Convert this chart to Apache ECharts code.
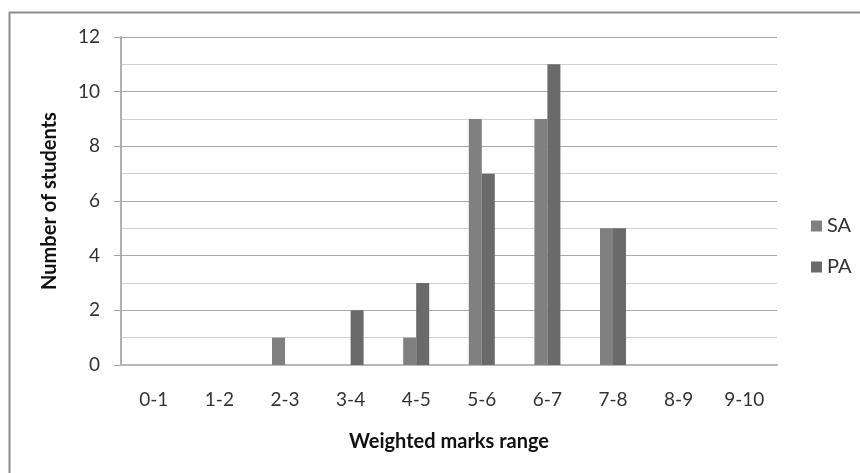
<!DOCTYPE html>
<html>
<head>
<meta charset="utf-8">
<script src="https://cdn.jsdelivr.net/npm/echarts@6/dist/echarts.min.js"></script>
<style>html,body{margin:0;padding:0;background:#fff}#c{width:860px;height:473px}</style>
</head>
<body>
<div id="c"></div>
<script>
var categories = ['0-1','1-2','2-3','3-4','4-5','5-6','6-7','7-8','8-9','9-10'];
var saValues = [0,0,1,0,1,9,9,5,0,0];
var paValues = [0,0,0,2,3,7,11,5,0,0];
var seriesNames = ['SA','PA'];
var FONT = 'Lato';
var chart = echarts.init(document.getElementById('c'), null, {renderer:'canvas'});
chart.setOption({
  animation: false,
  backgroundColor: '#fff',
  textStyle: {fontFamily: FONT},
  graphic: [
    {type:'line', shape:{x1:9,y1:12.5,x2:860,y2:12.5}, style:{stroke:'#8c8c8c', lineWidth:2}},
    {type:'line', shape:{x1:9.5,y1:12,x2:9.5,y2:473}, style:{stroke:'#8c8c8c', lineWidth:2}}
  ],
  legend: {
    orient: 'vertical', left: 811, top: 216, itemGap: 21, padding: 0,
    itemWidth: 11, itemHeight: 11, icon: 'rect',
    textStyle: {fontFamily: FONT, fontSize: 20, color: '#333'},
    data: seriesNames
  },
  grid: {left: 121, right: 83, top: 37, bottom: 108, containLabel: false},
  xAxis: {
    type: 'category', data: categories,
    axisLine: {lineStyle: {color: '#b8b8b8', width: 2}},
    axisTick: {show: false},
    axisLabel: {fontFamily: FONT, fontSize: 19, color: '#333', margin: 25},
    name: 'Weighted marks range', nameLocation: 'middle', nameGap: 67,
    nameTextStyle: {fontFamily: FONT, fontSize: 20, fontWeight: 'bold', color: '#111'}
  },
  yAxis: {
    type: 'value', min: 0, max: 12, interval: 2,
    axisLine: {show: true, lineStyle: {color: '#b0b0b0', width: 2}},
    axisTick: {show: true, length: 7, lineStyle: {color: '#a0a0a0'}},
    axisLabel: {fontFamily: FONT, fontSize: 19, color: '#333', margin: 21},
    splitLine: {lineStyle: {color: '#a8a8a8', width: 1}},
    minorTick: {show: false, splitNumber: 2},
    minorSplitLine: {show: true, lineStyle: {color: '#d0d0d0', width: 1}},
    name: 'Number of students', nameLocation: 'middle', nameGap: 61, nameRotate: 90,
    nameTextStyle: {fontFamily: FONT, fontSize: 20, fontWeight: 'bold', color: '#111'}
  },
  series: [
    {name: seriesNames[0], type: 'bar', data: saValues, barWidth: 13, barGap: '0%',
      itemStyle: {color: '#808080'}},
    {name: seriesNames[1], type: 'bar', data: paValues, barWidth: 13, barGap: '0%',
      itemStyle: {color: '#6a6a6a'}}
  ]
});
</script>
</body>
</html>
